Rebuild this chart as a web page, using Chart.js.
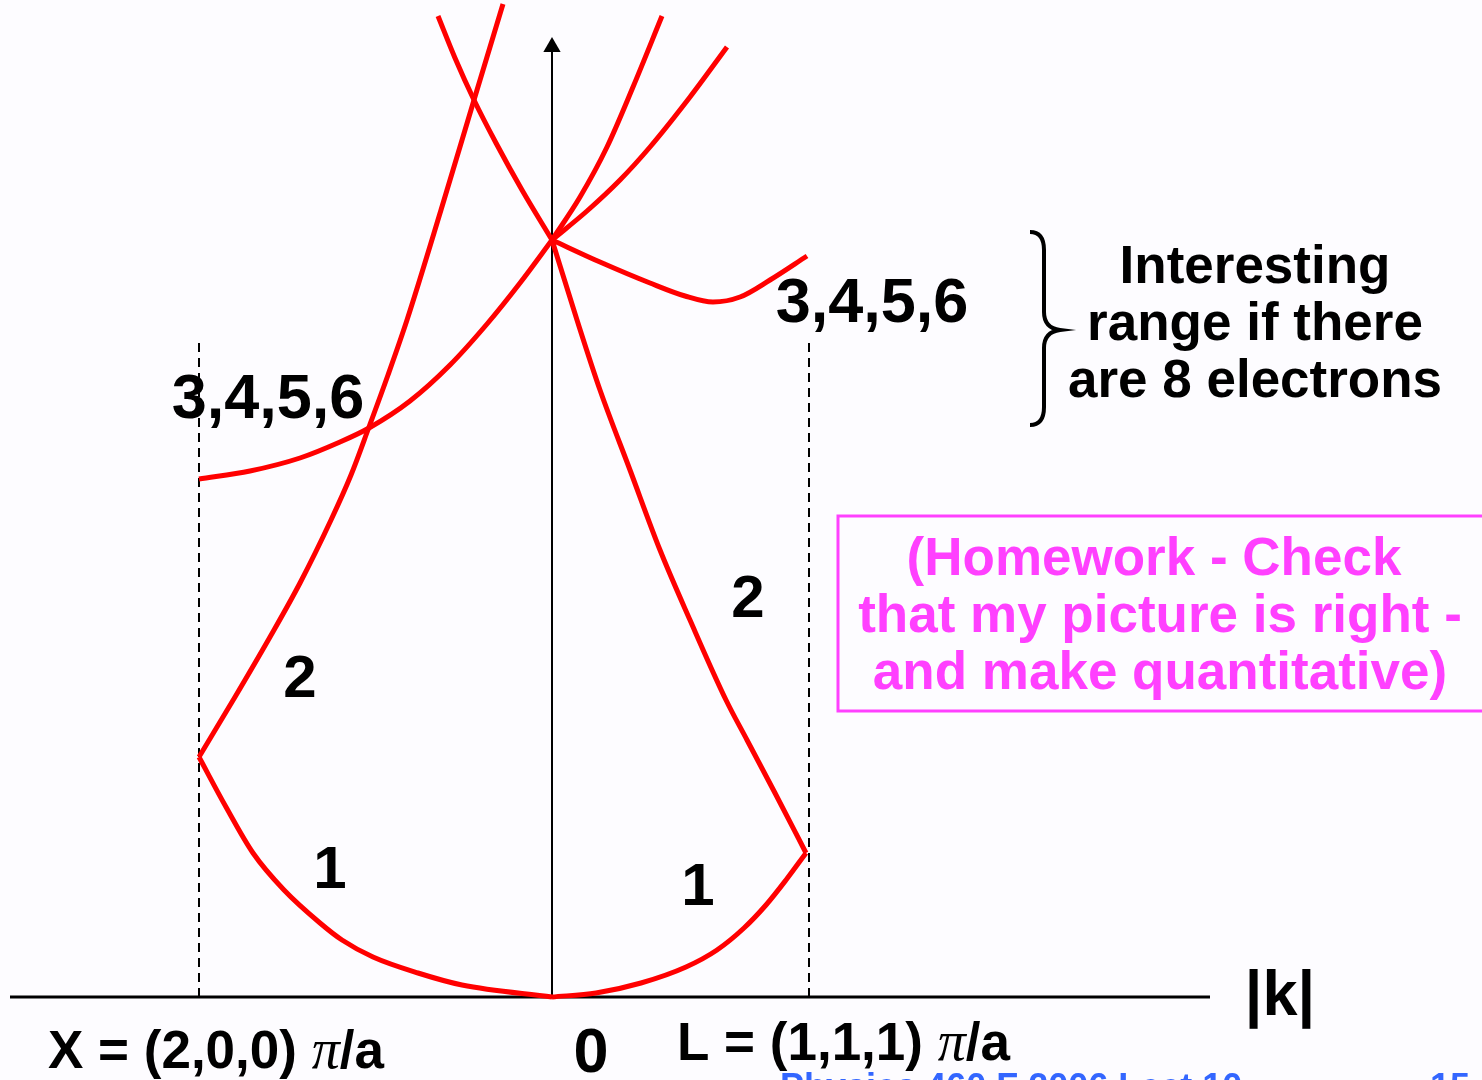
<!DOCTYPE html>
<html lang="en">

<head>
  <meta charset="utf-8">
  <title>Bands along X - Gamma - L</title>
  <script src="https://cdn.jsdelivr.net/npm/chart.js"></script>

  <style>
    html, body {
      margin: 0;
      padding: 0;
      background: #fdfcff;
      overflow: hidden;
    }

    .chart-box {
      position: relative;
      width: 1482px;
      height: 1080px;
    }
  </style>
</head>

<body>

  <div class="chart-box">
    <canvas id="bandChart"></canvas>
  </div>

<script>
  // |k| measured from Gamma (X side negative, L side positive), energy above the k axis
  var xPointK = -3.53;
  var lPointK = 2.57;

  // band 1, Gamma -> X and Gamma -> L
  var band1LeftK = [0, -0.90, -1.34, -1.79, -2.10, -2.32, -2.68, -2.99, -3.26, -3.53];
  var band1LeftE = [0, 0.12, 0.24, 0.40, 0.57, 0.74, 1.07, 1.44, 1.90, 2.40];
  var band1RightK = [0, 0.44, 0.89, 1.34, 1.65, 1.92, 2.14, 2.34, 2.54];
  var band1RightE = [0, 0.04, 0.14, 0.30, 0.47, 0.69, 0.92, 1.17, 1.44];

  // band 2
  var band2LeftK = [-3.53, -3.17, -2.82, -2.52, -2.21, -2.01, -1.83, -1.64, -1.45, -1.11, -0.78, -0.49];
  var band2LeftE = [2.40, 3.00, 3.60, 4.14, 4.77, 5.22, 5.70, 6.22, 6.77, 7.87, 8.97, 9.93];
  var band2RightK = [2.54, 2.23, 1.95, 1.74, 1.38, 1.08, 0.78, 0.48, 0.25, 0];
  var band2RightE = [1.44, 2.04, 2.57, 2.97, 3.77, 4.47, 5.27, 6.07, 6.77, 7.57];

  // bands 3,4,5,6 and the upper branches leaving Gamma
  var band3LeftK = [-3.53, -3.02, -2.52, -2.12, -1.83, -1.42, -1.02, -0.65, -0.32, 0];
  var band3LeftE = [5.18, 5.26, 5.39, 5.55, 5.69, 5.96, 6.32, 6.73, 7.14, 7.57];
  var band3RightK = [0, 0.48, 0.98, 1.33, 1.61, 1.88, 2.18, 2.55];
  var band3RightE = [7.57, 7.35, 7.14, 7.01, 6.95, 7.00, 7.17, 7.41];
  var upperLeftK = [0, -0.30, -0.56, -0.78, -0.97, -1.14];
  var upperLeftE = [7.57, 8.07, 8.54, 8.97, 9.39, 9.81];
  var upperSteepK = [0, 0.28, 0.55, 0.81, 1.10];
  var upperSteepE = [7.57, 8.00, 8.50, 9.10, 9.81];
  var upperWideK = [0, 0.35, 0.68, 0.98, 1.38, 1.75];
  var upperWideE = [7.57, 7.86, 8.17, 8.50, 9.00, 9.50];

  // axes and zone boundaries
  var kAxisK = [-5.42, 6.58];
  var kAxisE = [0, 0];
  var eAxisK = [0, 0];
  var eAxisE = [0, 9.50];
  var boundaryE = [0, 6.56];

  // texts
  var bandLabels = ['1', '1', '2', '2', '3,4,5,6', '3,4,5,6'];
  var noteLines = ['Interesting', 'range if there', 'are 8 electrons'];
  var homeworkLines = ['(Homework - Check', 'that my picture is right -', 'and make quantitative)'];
  var footerText = ['Physics 460 F 2006 Lect 10', '15'];

  function pts(ks, es) {
    return ks.map(function (k, i) { return { x: k, y: es[i] }; });
  }

  function curve(ks, es) {
    return {
      data: pts(ks, es),
      borderColor: '#ff0000',
      borderWidth: 5,
      pointRadius: 0,
      cubicInterpolationMode: 'monotone',
      clip: false
    };
  }

  var SANS = '"Liberation Sans", Arial, sans-serif';
  var SERIF = '"Liberation Serif", "Times New Roman", serif';

  // texts, brace and box drawn in data coordinates on top of the curves
  var notesPlugin = {
    id: 'notes',
    afterDraw: function (chart) {
      var ctx = chart.ctx;
      var xs = chart.scales.x, ys = chart.scales.y;
      function px(k) { return xs.getPixelForValue(k); }
      function py(e) { return ys.getPixelForValue(e); }

      ctx.save();
      ctx.textBaseline = 'alphabetic';

      // band numbers
      var spots = [[-2.22, 1.09], [1.46, 0.92], [-2.52, 3.00], [1.96, 3.80], [-2.84, 5.79], [3.20, 6.75]];
      ctx.fillStyle = '#000';
      ctx.textAlign = 'center';
      bandLabels.forEach(function (t, i) {
        ctx.font = 'bold ' + (t.length > 1 ? 63 : 60) + 'px ' + SANS;
        ctx.fillText(t, px(spots[i][0]), py(spots[i][1]));
      });

      // axis labels
      ctx.font = 'bold 63px ' + SANS;
      ctx.fillText('0', px(0.39), py(-0.75));
      ctx.fillText('|k|', px(7.28), py(-0.18));

      function pointLabel(head, k, e) {
        var x = px(k), y = py(e);
        ctx.textAlign = 'left';
        ctx.font = 'bold 53px ' + SANS;
        ctx.fillText(head, x, y);
        x += ctx.measureText(head).width;
        ctx.font = 'italic 56px ' + SERIF;
        ctx.fillText('\u03c0', x, y);
        x += ctx.measureText('\u03c0').width;
        ctx.font = 'bold 53px ' + SANS;
        ctx.fillText('/a', x, y);
      }
      pointLabel('X = (2,0,0) ', -5.04, -0.71);
      pointLabel('L = (1,1,1) ', 1.25, -0.63);

      // brace next to the upper bands
      ctx.strokeStyle = '#000';
      ctx.lineWidth = 4;
      ctx.beginPath();
      ctx.moveTo(px(4.78), py(7.65));
      ctx.quadraticCurveTo(px(4.92), py(7.65), px(4.92), py(7.47));
      ctx.lineTo(px(4.92), py(6.85));
      ctx.quadraticCurveTo(px(4.92), py(6.69), px(5.08), py(6.67));
      ctx.quadraticCurveTo(px(4.92), py(6.65), px(4.92), py(6.49));
      ctx.lineTo(px(4.92), py(5.90));
      ctx.quadraticCurveTo(px(4.92), py(5.72), px(4.78), py(5.72));
      ctx.stroke();

      ctx.textAlign = 'center';
      ctx.font = 'bold 53px ' + SANS;
      noteLines.forEach(function (t, i) {
        ctx.fillText(t, px(7.03), py(7.14 - 0.57 * i));
      });

      // homework box
      ctx.strokeStyle = '#ff40ff';
      ctx.lineWidth = 3;
      ctx.strokeRect(px(2.86), py(4.81), px(9.45) - px(2.86), py(2.86) - py(4.81));
      ctx.fillStyle = '#ff40ff';
      homeworkLines.forEach(function (t, i) {
        ctx.fillText(t, px(6.08) + (i === 0 ? -6 : 0), py(4.22 - 0.57 * i));
      });

      // slide footer, cut by the bottom edge
      ctx.fillStyle = '#3366ff';
      ctx.font = 'bold 36px ' + SANS;
      ctx.textAlign = 'left';
      ctx.fillText(footerText[0], px(2.28), py(-1.02));
      ctx.textAlign = 'right';
      ctx.fillText(footerText[1], px(9.18), py(-1.02));

      ctx.restore();
    }
  };

  var datasets = [
    curve(band1LeftK, band1LeftE),
    curve(band1RightK, band1RightE),
    curve(band2LeftK, band2LeftE),
    curve(band2RightK, band2RightE),
    curve(band3LeftK, band3LeftE),
    curve(band3RightK, band3RightE),
    curve(upperLeftK, upperLeftE),
    curve(upperSteepK, upperSteepE),
    curve(upperWideK, upperWideE),
    {
      // energy axis with arrow head
      data: pts(eAxisK, eAxisE),
      borderColor: '#000',
      borderWidth: 2,
      pointRadius: [0, 10],
      pointStyle: 'triangle',
      pointBackgroundColor: '#000',
      pointBorderWidth: 0
    },
    {
      data: pts(kAxisK, kAxisE),
      borderColor: '#000',
      borderWidth: 3,
      pointRadius: 0
    },
    {
      data: pts([xPointK, xPointK], boundaryE),
      borderColor: '#000',
      borderWidth: 2,
      borderDash: [9, 6],
      pointRadius: 0
    },
    {
      data: pts([lPointK, lPointK], boundaryE),
      borderColor: '#000',
      borderWidth: 2,
      borderDash: [9, 6],
      pointRadius: 0
    }
  ];

  var ctx = document.getElementById('bandChart').getContext('2d');
  var bandChart = new Chart(ctx, {
    type: 'scatter',
    data: { datasets: datasets.map(function (d) { d.showLine = true; return d; }) },
    options: {
      responsive: true,
      maintainAspectRatio: false,
      animation: false,
      layout: { padding: 0, autoPadding: false },
      scales: {
        x: { type: 'linear', min: -5.52, max: 9.30, display: false },
        y: { type: 'linear', min: -0.83, max: 9.97, display: false }
      },
      plugins: {
        legend: { display: false },
        tooltip: { enabled: false }
      }
    },
    plugins: [notesPlugin]
  });
</script>

</body>

</html>
